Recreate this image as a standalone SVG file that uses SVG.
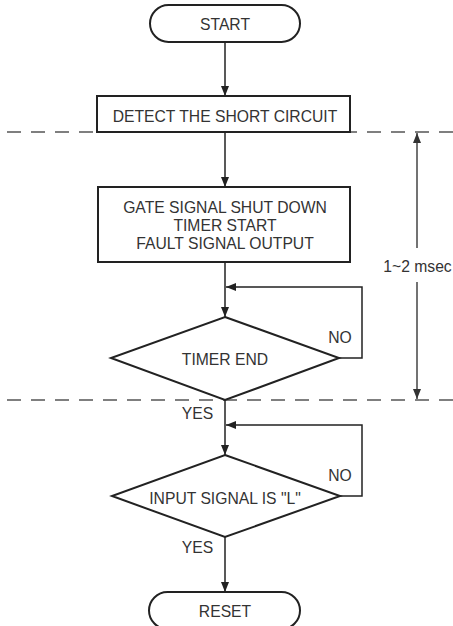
<svg xmlns="http://www.w3.org/2000/svg" width="453" height="626" viewBox="0 0 453 626">
<defs>
<style>
.shape{fill:#fff;stroke:#222;stroke-width:2}
.conn{fill:none;stroke:#222;stroke-width:1.5}
.dim{fill:none;stroke:#444;stroke-width:1.5}
.dash{fill:none;stroke:#555;stroke-width:1.4;stroke-dasharray:14 10}
text{font-family:"Liberation Sans",Arial,sans-serif;font-size:15.7px;fill:#333;text-anchor:middle}
</style>
<marker id="ah" viewBox="0 0 10 10" refX="10" refY="5" markerWidth="10" markerHeight="10" markerUnits="userSpaceOnUse" orient="auto">
<path d="M0,1 L10,5 L0,9 Z" fill="#222"/>
</marker>
<marker id="ahg" viewBox="0 0 10 10" refX="10" refY="5" markerWidth="10" markerHeight="10" markerUnits="userSpaceOnUse" orient="auto">
<path d="M0,1 L10,5 L0,9 Z" fill="#333"/>
</marker>
</defs>
<rect width="453" height="626" fill="#fff"/>
<g id="guides">
<line class="dash" x1="7" y1="132" x2="453" y2="132"/>
<line class="dash" x1="7" y1="400" x2="453" y2="400"/>
</g>
<g id="connectors">
<line class="conn" x1="225" y1="42" x2="225" y2="96" marker-end="url(#ah)"/>
<line class="conn" x1="225" y1="132" x2="225" y2="187" marker-end="url(#ah)"/>
<line class="conn" x1="225" y1="262" x2="225" y2="317" marker-end="url(#ah)"/>
<polyline class="conn" points="339,358 362,358 362,287 226,287" marker-end="url(#ah)"/>
<line class="conn" x1="225" y1="400" x2="225" y2="455" marker-end="url(#ah)"/>
<polyline class="conn" points="340,496 362,496 362,425 226,425" marker-end="url(#ah)"/>
<line class="conn" x1="225" y1="537" x2="225" y2="592" marker-end="url(#ah)"/>
</g>
<g id="dimension">
<line class="dim" x1="417" y1="248" x2="417" y2="133" marker-end="url(#ahg)"/>
<line class="dim" x1="417" y1="282" x2="417" y2="399" marker-end="url(#ahg)"/>
<text x="417.5" y="272">1~2 msec</text>
</g>
<g id="start">
<rect class="shape" x="150" y="5" width="150" height="37" rx="18.5"/>
<text x="225" y="30">START</text>
</g>
<g id="detect">
<rect class="shape" x="97" y="96" width="253" height="36"/>
<text x="225" y="122">DETECT THE SHORT CIRCUIT</text>
</g>
<g id="gate">
<rect class="shape" x="98" y="187" width="252" height="75"/>
<text x="225" y="213">GATE SIGNAL SHUT DOWN</text>
<text x="225" y="231">TIMER START</text>
<text x="225" y="249">FAULT SIGNAL OUTPUT</text>
</g>
<g id="timer-end">
<polygon class="shape" points="225,317 339,358 225,400 111,358"/>
<text x="225" y="365">TIMER END</text>
<text x="340" y="343">NO</text>
<text x="197.5" y="419">YES</text>
</g>
<g id="input-signal">
<polygon class="shape" points="225,455 340,496 225,537 112,496"/>
<text x="225" y="504">INPUT SIGNAL IS "L"</text>
<text x="340" y="481">NO</text>
<text x="197.5" y="553">YES</text>
</g>
<g id="reset">
<rect class="shape" x="149" y="592" width="151" height="37" rx="18.5"/>
<text x="225" y="617">RESET</text>
</g>
</svg>
